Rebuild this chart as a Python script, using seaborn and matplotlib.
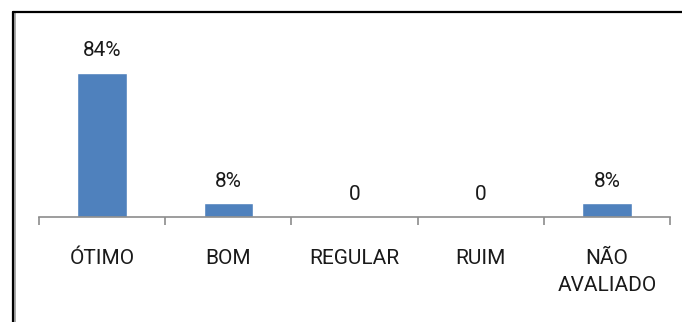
import numpy as np
import matplotlib
matplotlib.use("Agg")
import matplotlib.pyplot as plt
import seaborn as sns
from matplotlib.lines import Line2D

sns.set_style("white")
plt.rcParams['font.family'] = ['Roboto', 'DejaVu Sans']

# chart data
categories = ['ÓTIMO', 'BOM', 'REGULAR', 'RUIM', 'NÃO\nAVALIADO']
values = [84, 8, 0, 0, 8]
value_labels = ['84%', '8%', '0', '0', '8%']

bar_color = '#4F81BD'
axis_color = '#8C8C8C'
text_color = '#1A1A1A'

W, H = 682, 322
fig = plt.figure(figsize=(W / 100, H / 100), dpi=100)
ax = fig.add_axes([39 / W, 105 / H, 631 / W, 192 / H])

sns.barplot(x=categories, y=values, color=bar_color, saturation=1,
            width=0.39, ax=ax)

# value labels above each bar
for i, (v, lab) in enumerate(zip(values, value_labels)):
    ax.annotate(lab, (i, v), xytext=(0, 11.9), textcoords='offset points',
                ha='center', va='baseline', fontsize=15, color=text_color)

ax.set_xlim(-0.5, len(categories) - 0.5)
ax.set_ylim(0, 112)
ax.set_xlabel('')
ax.set_ylabel('')
ax.set_yticks([])

for side in ['top', 'right', 'left']:
    ax.spines[side].set_visible(False)
ax.spines['bottom'].set_color(axis_color)
ax.spines['bottom'].set_linewidth(1.2)

# category labels centred, tick marks between categories
ax.tick_params(axis='x', which='major', length=0, pad=23, labelsize=15,
               labelcolor=text_color)
ax.set_xticks(np.arange(len(categories) + 1) - 0.5, minor=True)
ax.tick_params(axis='x', which='minor', bottom=True, length=6, width=1.2,
               color=axis_color, direction='out')
for t in ax.get_xticklabels():
    t.set_linespacing(1.55)

# chart frame (left and top edges)
fig.add_artist(Line2D([15 / W, 15 / W], [0, 1 - 13 / H], color='#9A9A9A', lw=1.2))
fig.add_artist(Line2D([13 / W, 13 / W], [0, 1 - 12 / H], color='black', lw=1.6))
fig.add_artist(Line2D([12.5 / W, 1], [1 - 12 / H, 1 - 12 / H], color='black', lw=1.6))

fig.savefig('out.png', dpi=100)
